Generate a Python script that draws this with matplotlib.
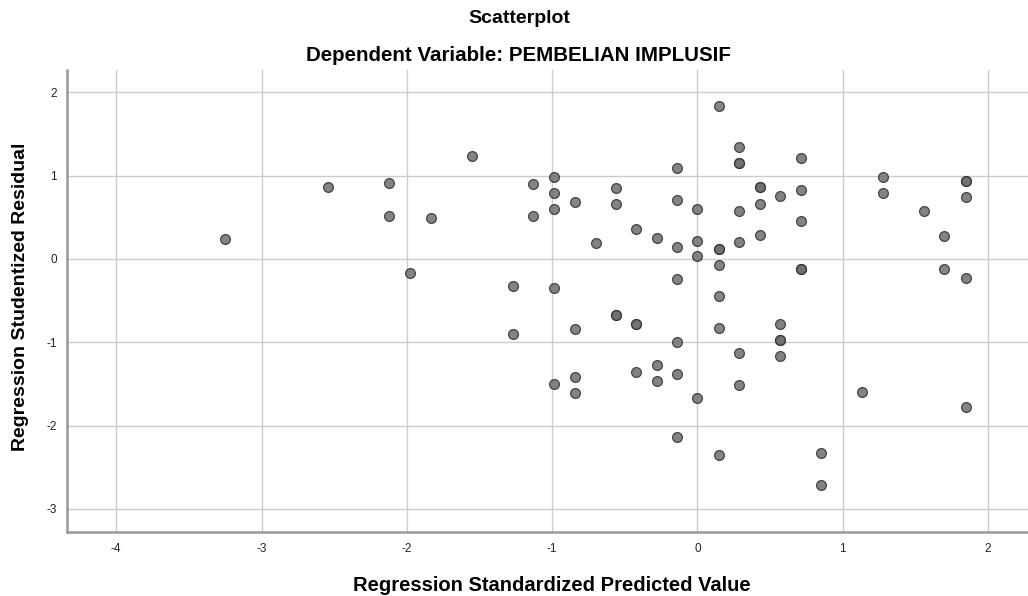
import matplotlib.pyplot as plt

plt.rcParams['font.family'] = ['Liberation Sans', 'DejaVu Sans']
plt.rcParams['axes.unicode_minus'] = False

# predicted value (standardized) and studentized residual
pred = [-3.25, -2.545, -2.12, -2.12, -1.835, -1.55, -1.98, -1.13, -1.13, -1.27,
        -1.27, -0.987, -0.987, -0.987, -0.987, -0.987, -0.845, -0.845, -0.845,
        -0.845, -0.70, -0.562, -0.562, -0.562, -0.562, -0.42, -0.42, -0.42,
        -0.42, -0.28, -0.28, -0.28, -0.138, -0.138, -0.138, -0.138, -0.138,
        -0.138, -0.138, 0.0, 0.0, 0.0, 0.0, 0.145, 0.145, 0.145, 0.145, 0.145,
        0.145, 0.145, 0.286, 0.286, 0.286, 0.286, 0.286, 0.286, 0.286, 0.43,
        0.43, 0.43, 0.43, 0.571, 0.571, 0.571, 0.571, 0.571, 0.713, 0.713,
        0.713, 0.713, 0.713, 0.853, 0.853, 1.135, 1.277, 1.277, 1.56, 1.70,
        1.70, 1.845, 1.845, 1.845, 1.845, 1.845]
resid = [0.24, 0.86, 0.91, 0.52, 0.49, 1.23, -0.17, 0.90, 0.52, -0.33,
         -0.90, 0.985, 0.79, 0.60, -0.35, -1.50, 0.685, -0.846, -1.415,
         -1.607, 0.196, 0.85, 0.66, -0.678, -0.678, 0.36, -0.78, -0.78,
         -1.355, 0.25, -1.27, -1.46, 1.09, 0.71, 0.14, -0.24, -0.998, -1.38,
         -2.14, 0.60, 0.22, 0.03, -1.675, 1.83, 0.115, -0.07, -0.45, -0.834,
         -2.35, 0.115, 1.34, 1.15, 1.15, 0.58, 0.20, -1.13, -1.51, 0.857,
         0.857, 0.66, 0.285, 0.75, -0.78, -0.97, -0.97, -1.16, 1.21, 0.83,
         0.45, -0.125, -0.125, -2.33, -2.71, -1.60, 0.977, 0.785, 0.57, 0.27,
         -0.117, 0.93, 0.93, 0.74, -0.23, -1.775]

fig = plt.figure(figsize=(10.28, 5.96), dpi=100)
ax = fig.add_axes([0.065, 0.107, 0.935, 0.776])

ax.scatter(pred, resid, s=50, facecolor='#6e6e6e', edgecolor='#2e2e2e',
           linewidth=0.9, alpha=0.85, zorder=3)

ax.set_xlim(-4.34, 2.275)
ax.set_ylim(-3.28, 2.27)
ax.set_xticks([-4, -3, -2, -1, 0, 1, 2])
ax.set_yticks([-3, -2, -1, 0, 1, 2])
ax.grid(True, color='#cccccc', linewidth=1.0, zorder=0)
ax.set_axisbelow(True)
ax.tick_params(axis='x', length=0, labelsize=8.5, pad=8, colors='#222222')
ax.tick_params(axis='y', length=0, labelsize=8.5, pad=7, colors='#222222')

for side in ['top', 'right']:
    ax.spines[side].set_visible(False)
for side in ['left', 'bottom']:
    ax.spines[side].set_color('#999999')
    ax.spines[side].set_linewidth(1.8)

ax.set_xlabel('Regression Standardized Predicted Value', fontsize=14.5,
              fontweight='bold')
ax.set_ylabel('Regression Studentized Residual', fontsize=14,
              fontweight='bold')
ax.xaxis.set_label_coords(0.505, -0.094)
ax.yaxis.set_label_coords(-0.039, 0.51)

fig.text(0.505, 0.961, 'Scatterplot', ha='center', va='baseline',
         fontsize=14, fontweight='bold')
fig.text(0.504, 0.897, 'Dependent Variable: PEMBELIAN IMPLUSIF', ha='center',
         va='baseline', fontsize=14.8, fontweight='bold')

fig.savefig('out.png', dpi=100)
